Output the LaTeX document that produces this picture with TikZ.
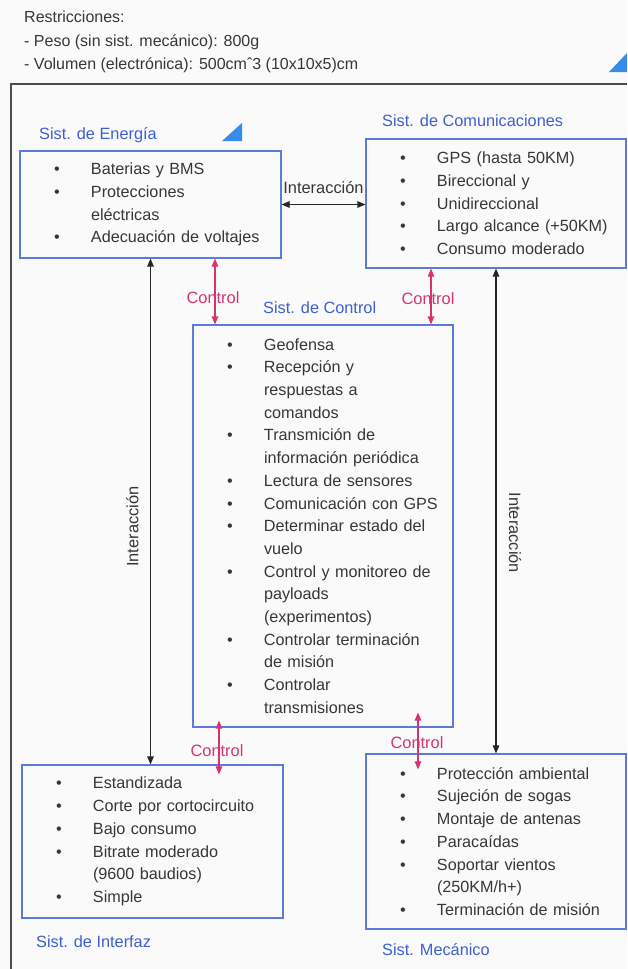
\documentclass[tikz,border=0pt]{standalone}
\usepackage{fontspec}
\setmainfont{Liberation Sans}
\usetikzlibrary{arrows.meta,positioning}
\definecolor{fondo}{RGB}{250,250,250}
\definecolor{texto}{RGB}{55,55,55}
\definecolor{azul}{RGB}{92,122,222}
\definecolor{azultxt}{RGB}{62,96,206}
\definecolor{rosa}{RGB}{214,52,112}
\definecolor{triang}{RGB}{55,140,235}
\newcommand{\itm}{\hspace*{34pt}\makebox[37pt][l]{\textbullet}}
\newcommand{\sig}{\hspace*{71pt}}

\begin{document}
\begin{tikzpicture}[x=1pt,y=-1pt]
\tikzstyle{sistema}=[draw=azul,line width=1.1pt,inner sep=0pt,align=left,text=texto,font=\fontsize{16.2}{22.7}\selectfont]
\tikzstyle{etiqueta}=[text=azultxt,font=\fontsize{16.3}{18}\selectfont,inner sep=0pt,anchor=west]
\tikzstyle{flechaint}=[{Triangle[length=8pt,width=6.5pt]}-{Triangle[length=8pt,width=6.5pt]},line width=1.1pt,draw=black!85,fill=black!85]
\tikzstyle{flechactrl}=[{Triangle[length=8pt,width=6.5pt]}-{Triangle[length=8pt,width=6.5pt]},line width=1.1pt,draw=rosa,fill=rosa]
\tikzstyle{txtint}=[text=texto,fill=none,font=\fontsize{16.4}{18}\selectfont,inner sep=0pt]
\tikzstyle{txtctrl}=[text=rosa,fill=none,font=\fontsize{16.4}{18}\selectfont,inner sep=0pt]
\fill[fondo] (0,0) rectangle (627,969);
\useasboundingbox (0,0) rectangle (627,969);
\draw[black!70,line width=1.3pt] (627,84) -- (11,84) -- (11,969);
\fill[triang] (609,72) -- (627,72) -- (627,53) -- cycle;
\fill[triang] (222,141) -- (242,141) -- (242,123) -- cycle;
\node[anchor=north west,align=left,inner sep=0pt,text=texto,font=\fontsize{16}{23.5}\selectfont] (restric) at (24,11) {Restricciones:\\- Peso (sin sist. mecánico): 800g\\- Volumen (electrónica): 500cmˆ3 (10x10x5)cm};
\node[sistema,text width=261pt,minimum height=107pt] (energia) at (150.5,204.5) {\itm Baterias y BMS\\ \itm Protecciones\\ \sig eléctricas\\ \itm Adecuación de voltajes};
\node[sistema,text width=260pt,minimum height=129pt] (comunic) at (496,203.5) {\itm GPS (hasta 50KM)\\ \itm Bireccional y\\ \itm Unidireccional\\ \itm Largo alcance (+50KM)\\ \itm Consumo moderado};
\node[sistema,text width=260pt,minimum height=402pt] (control) at (323,526) {\itm Geofensa\\ \itm Recepción y\\ \sig respuestas a\\ \sig comandos\\ \itm Transmición de\\ \sig información periódica\\ \itm Lectura de sensores\\ \itm Comunicación con GPS\\ \itm Determinar estado del\\ \sig vuelo\\ \itm Control y monitoreo de\\ \sig payloads\\ \sig (experimentos)\\ \itm Controlar terminación\\ \sig de misión\\ \itm Controlar\\ \sig transmisiones};
\node[sistema,text width=261pt,minimum height=153pt] (interfaz) at (152.5,841.5) {\itm Estandizada\\ \itm Corte por cortocircuito\\ \itm Bajo consumo\\ \itm Bitrate moderado\\ \sig (9600 baudios)\\ \itm Simple};
\node[sistema,text width=260pt,minimum height=175pt] (mecanico) at (496,841.5) {\itm Protección ambiental\\ \itm Sujeción de sogas\\ \itm Montaje de antenas\\ \itm Paracaídas\\ \itm Soportar vientos\\ \sig (250KM/h+)\\ \itm Terminación de misión};
\node[etiqueta] (energiaLbl) at (39,135) {Sist. de Energía};
\node[etiqueta] (comunicLbl) at (382,121) {Sist. de Comunicaciones};
\node[etiqueta] (controlLbl) at (263,308) {Sist. de Control};
\node[etiqueta] (interfazLbl) at (36,942) {Sist. de Interfaz};
\node[etiqueta] (mecanicoLbl) at (382,950) {Sist. Mecánico};
\draw[flechaint] (energia.east) -- (energia.east -| comunic.west) node[txtint,midway,yshift=17pt] (intEC) {Interacción};
\draw[flechaint] (energia.south) -- (energia.south |- interfaz.north) node[txtint,pos=0.53,xshift=-18pt,rotate=90] (intEI) {Interacción};
\draw[flechaint] (comunic.south) -- (mecanico.north) node[txtint,pos=0.545,xshift=19pt,rotate=-90] (intCM) {Interacción};
\draw[flechactrl] ([xshift=64.5pt]energia.south) -- ([xshift=64.5pt]energia.south |- control.north) node[txtctrl,pos=0.6,xshift=-2pt] (ctrlE) {Control};
\draw[flechactrl] ([xshift=-65pt]comunic.south) -- ([xshift=-65pt]comunic.south |- control.north) node[txtctrl,pos=0.53,xshift=-3pt] (ctrlC) {Control};
\draw[flechactrl] ([xshift=-104pt,yshift=7pt]control.south) -- ([xshift=66.5pt,yshift=-10pt]interfaz.north) node[txtctrl,pos=0.55,xshift=-2pt] (ctrlI) {Control};
\draw[flechactrl] ([xshift=95pt,yshift=15pt]control.south) -- ([xshift=-78pt,yshift=-16pt]mecanico.north) node[txtctrl,pos=0.52,xshift=-1pt] (ctrlM) {Control};
\end{tikzpicture}
\end{document}
